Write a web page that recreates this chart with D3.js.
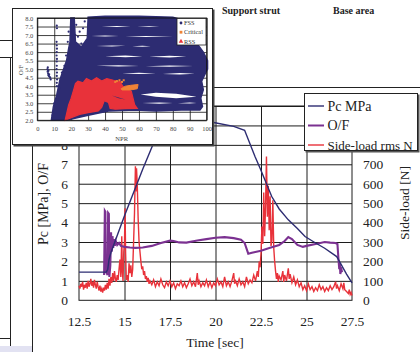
<!DOCTYPE html>
<html>
<head>
<meta charset="utf-8">
<script src="https://d3js.org/d3.v7.min.js"></script>
<style>
  body { margin: 0; background: #fff; }
  svg { display: block; }
  svg text { font-family: "Liberation Serif", "Times New Roman", serif; }
</style>
</head>
<body>
<svg id="chart" width="420" height="352"></svg>
<script>
// ---- main chart data (time in s) ----
const pc = [[12.5,1.45],[14.0,1.45],[14.08,1.6],[14.15,2.1],[14.25,2.45],[15.0,4.35],[16.0,6.75],[16.6,8.1],
  [17.1,9.2],[18.0,9.3],[19.0,9.25],[19.9,9.15],[21.0,8.95],[21.6,8.75],[22.17,7.4],[22.45,6.8],[23.09,5.34],
  [23.5,4.7],[24.0,4.14],[24.5,3.7],[24.92,3.28],[25.5,2.95],[26.0,2.68],[26.66,2.25],[26.9,1.85],[27.2,1.35],[27.5,0.9]];

const of = [[13.88,1.3],[13.92,4.6],[13.95,4.55],[13.97,1.5],[14.02,1.4],[14.07,1.3],[14.1,4.5],[14.14,4.45],
  [14.17,1.2],[14.22,1.8],[14.26,3.5],[14.3,2.5],[14.34,3.3],[14.38,2.7],[14.42,3.15],[14.47,2.8],[14.52,3.05],
  [14.6,2.85],[14.7,2.95],[14.8,2.8],[15.0,2.75],[15.3,2.72],[15.6,2.7],[16.0,2.72],[16.5,2.8],[17.0,2.95],
  [17.5,3.07],[17.7,3.05],[18.0,2.98],[18.4,2.97],[19.0,3.08],[19.5,3.15],[20.0,3.22],[20.5,3.25],[21.0,3.2],
  [21.4,3.12],[21.6,2.95],[21.8,2.4],[22.0,2.45],[22.5,2.55],[23.0,2.7],[23.5,2.85],[23.8,3.05],[24.0,3.25],
  [24.2,3.15],[24.5,2.85],[24.8,2.75],[25.0,2.8],[25.5,2.9],[26.0,3.0],[26.3,2.97],[26.6,2.95],[26.7,2.9],
  [26.75,2.2],[26.8,1.6],[26.83,1.9],[26.86,1.35],[26.9,1.7],[26.94,1.5],[26.97,1.45]];

const sideLoad = [[12.5,75],[12.55,60],[12.6,85],[12.65,70],[12.7,95],[12.75,55],[12.8,80],[12.85,65],[12.9,90],
  [12.95,60],[13.0,100],[13.05,70],[13.1,85],[13.15,110],[13.2,75],[13.25,95],[13.3,65],[13.35,105],[13.4,80],
  [13.45,60],[13.5,95],[13.55,70],[13.6,50],[13.65,75],[13.7,45],[13.75,60],[13.8,40],[13.85,65],[13.9,50],
  [13.95,80],[14.0,55],[14.05,90],[14.1,60],[14.15,110],[14.2,75],[14.25,120],[14.3,90],[14.35,140],[14.4,100],
  [14.45,150],[14.5,110],[14.55,95],[14.6,130],[14.65,105],[14.7,160],[14.75,210],[14.8,120],[14.85,330],
  [14.88,150],[14.92,100],[14.96,250],[15.0,300],[15.03,474],[15.06,250],[15.1,105],[15.15,130],[15.2,95],
  [15.25,190],[15.3,140],[15.35,180],[15.4,120],[15.45,160],[15.5,300],[15.55,450],[15.6,690],[15.63,560],
  [15.66,680],[15.7,600],[15.75,420],[15.8,300],[15.85,250],[15.9,200],[15.95,160],[16.0,175],[16.05,130],
  [16.1,150],[16.15,110],[16.2,125],[16.25,95],[16.3,115],[16.35,85],[16.4,100],[16.5,80],[16.6,105],[16.7,70],
  [16.8,95],[16.9,75],[17.0,110],[17.1,80],[17.2,65],[17.3,95],[17.4,75],[17.5,100],[17.6,70],[17.7,90],
  [17.8,60],[17.9,85],[18.0,75],[18.1,100],[18.2,70],[18.3,90],[18.4,65],[18.5,85],[18.6,110],[18.7,75],
  [18.8,95],[18.9,70],[19.0,140],[19.05,80],[19.1,100],[19.2,70],[19.3,90],[19.4,75],[19.5,105],[19.6,70],
  [19.7,95],[19.8,65],[19.9,90],[20.0,75],[20.1,110],[20.2,80],[20.3,95],[20.4,70],[20.5,120],[20.6,75],
  [20.7,95],[20.8,70],[20.9,100],[21.0,140],[21.05,85],[21.1,100],[21.2,75],[21.3,110],[21.4,80],[21.5,95],
  [21.6,70],[21.7,120],[21.8,85],[21.9,105],[22.0,90],[22.1,130],[22.2,100],[22.3,150],[22.35,120],[22.4,200],
  [22.45,170],[22.5,240],[22.55,380],[22.6,290],[22.65,555],[22.7,330],[22.75,480],[22.8,740],[22.85,430],
  [22.9,590],[22.95,360],[23.0,535],[23.05,280],[23.1,310],[23.15,515],[23.2,270],[23.25,200],[23.3,150],
  [23.35,110],[23.4,140],[23.45,95],[23.5,125],[23.6,105],[23.7,150],[23.75,95],[23.8,130],[23.9,100],
  [24.0,165],[24.05,110],[24.1,135],[24.2,90],[24.3,120],[24.4,80],[24.5,105],[24.6,70],[24.7,90],[24.8,55],
  [24.9,75],[25.0,50],[25.1,85],[25.2,55],[25.3,70],[25.4,45],[25.5,65],[25.6,50],[25.7,80],[25.8,55],
  [25.9,70],[26.0,45],[26.1,65],[26.2,50],[26.3,75],[26.4,55],[26.5,70],[26.6,95],[26.65,60],[26.7,75],
  [26.8,50],[26.9,85],[27.0,60],[27.05,90],[27.1,55],[27.2,45],[27.3,35],[27.35,55],[27.4,30],[27.45,40],[27.5,25]];

const timeTicks = [12.5, 15, 17.5, 20, 22.5, 25, 27.5];
const leftTicks = [0, 1, 2, 3, 4, 5, 6, 7, 8];
const rightTicks = [0, 100, 200, 300, 400, 500, 600, 700];
const legendNames = ['Pc MPa', 'O/F', 'Side-load rms N'];

// ---- inset scatter data (NPR, O/F) ----
const fssCloud = [[8.3,2.0],[17,2.0],[30,2.3],[42,2.55],[58,2.6],[70,2.55],[85,2.6],[96,2.6],[97.5,2.8],
  [96.5,3.3],[98,3.8],[97,4.3],[99,4.7],[100.5,5.0],[100.5,5.5],[98,6.0],[95,6.4],[91,7.0],[88,7.5],[85,7.9],
  [80,8.05],[60,8.1],[40,8.1],[30,8.05],[29.5,6.8],[26,6.3],[22.5,6.6],[21.8,8.0],[19.8,8.0],[19.3,6.6],
  [18.5,6.2],[17.3,5.5],[15.5,5.0],[13.4,4.4],[11.5,3.5],[9.5,2.8]];
// thin broken white streaks inside the FSS cloud
const fssGaps = [
  [[32,6.95],[40,6.92],[48,6.95],[40,6.98]],
  [[52,6.9],[64,6.88],[80,6.92],[64,6.95]],
  [[35,6.36],[44,6.33],[52,6.37],[44,6.39]],
  [[56,6.34],[62,6.32],[67,6.35],[62,6.37]],
  [[40,5.76],[52,5.7],[62,5.74],[52,5.8]],
  [[66,5.72],[78,5.68],[88,5.74],[78,5.79]],
  [[35,5.2],[48,5.16],[60,5.19],[48,5.23]],
  [[64,5.17],[78,5.14],[92,5.19],[78,5.22]],
  [[50,4.75],[60,4.71],[70,4.74],[60,4.79]],
  [[74,4.72],[84,4.69],[93,4.73],[84,4.78]],
  [[61,3.52],[70,3.38],[82,3.3],[94,3.38],[82,3.55],[70,3.62]],
  [[62,3.01],[72,2.97],[80,3.01],[72,3.05]],
  [[83,3.0],[90,2.98],[94,3.01],[90,3.04]],
  [[38,7.5],[47,7.47],[55,7.5],[47,7.53]],
  [[59,7.49],[66,7.47],[72,7.5],[66,7.52]]
];
const rssStreak = [[44,3.45],[48,3.34],[52,3.22],[48,3.3]];
const fssDots = [[11.5,7.55],[11.6,7.4],[11.4,6.6],[11.5,6.4],[11.6,6.2],[11.5,6.0],[11.4,5.8],[11.6,5.6],
  [11.5,5.45],[11.5,5.2],[11.4,5.0],[11.6,4.8],[11.5,4.6],[11.7,4.4],[11.5,4.2],[11.6,4.0],
  [6.2,5.1],[6.0,5.0],[6.3,4.95],[6.1,4.85],[6.4,4.75],[6.5,4.65],[6.8,4.6],[7.2,4.55],[7.6,4.5],[7.9,4.4],
  [7.0,4.7],[6.6,4.9],[23,7.6],[25,7.2],[24,6.9],[27,7.4],[26,6.5],[28,7.8],[22.5,7.0],
  [9,2.3],[10,3.0],[12,3.2],[13,3.9],[14.5,4.8],[16,5.2],[17,5.8],[18,6.6],[18.5,7.2]];
const rssArea = [[16.4,2.0],[18.5,2.9],[20,3.3],[21.5,3.8],[22.5,4.15],[24,4.3],[27,4.2],[29,4.45],[32,4.3],
  [35,4.5],[38,4.3],[41,4.45],[45,4.35],[48.8,4.28],[50.5,4.0],[53,3.85],[55.5,3.7],[56.5,3.3],[57.5,2.9],
  [59,2.7],[52,2.68],[46,2.65],[43,2.7],[42,3.05],[39.5,3.15],[38,2.75],[36,2.55],[30,2.45],[25,2.35],[20,2.15]];
const criticalArea = [[49.5,3.85],[52,4.0],[55,4.05],[59.5,4.1],[59,3.85],[55,3.78],[50,3.78]];
const criticalDots = [[47,4.3],[48.5,4.35],[50,4.25],[51,4.35],[46,4.25]];

const nprTicks = d3.range(0, 101, 10);
const ofTicks = d3.range(2, 8.01, 0.5);
const insetNames = ['FSS', 'Critical', 'RSS'];

const navy = '#2d2c72', purple = '#7b3191', red = '#e8323a', orange = '#ef8236';
const serif = '"Liberation Serif", "Times New Roman", serif';

const svg = d3.select('#chart');

// page fragments around the figure
const page = svg.append('g').attr('stroke', '#222').attr('stroke-width', 1);
page.append('line').attr('x1', 0).attr('x2', 12).attr('y1', 40.5).attr('y2', 40.5);
page.append('line').attr('x1', 0).attr('x2', 12).attr('y1', 57.5).attr('y2', 57.5);
page.append('line').attr('x1', 10.5).attr('x2', 10.5).attr('y1', 57).attr('y2', 352);
page.append('line').attr('x1', 32.5).attr('x2', 32.5).attr('y1', 145).attr('y2', 352);
page.append('line').attr('x1', 0).attr('x2', 10).attr('y1', 338.5).attr('y2', 338.5);
page.append('line').attr('x1', 213).attr('x2', 420).attr('y1', 87.5).attr('y2', 87.5);
svg.append('rect').attr('x', 0).attr('y', 346).attr('width', 32).attr('height', 6).attr('fill', '#e2e2f2');

svg.append('text').attr('x', 222).attr('y', 14).attr('font-size', 10).attr('font-weight', 'bold')
  .attr('fill', '#222').text('Support strut');
svg.append('text').attr('x', 333).attr('y', 14).attr('font-size', 10).attr('font-weight', 'bold')
  .attr('fill', '#222').text('Base area');

// ---- main chart ----
const x = d3.scaleLinear().domain([12.5, 27.5]).range([79, 352]);
const y = d3.scaleLinear().domain([0, 10]).range([300.3, 106]);
const y2 = d3.scaleLinear().domain([0, 1000]).range([300.3, 106]);

const g = svg.append('g');

function styleTicks(a, size, fill) {
  a.attr('font-family', serif);
  a.select('.domain').remove();
  a.selectAll('text').attr('font-size', size).attr('font-family', serif).attr('fill', fill);
}

// grid
g.append('g').attr('transform', 'translate(79,0)')
  .call(d3.axisLeft(y).tickValues(d3.range(1, 11)).tickSize(-(352 - 79)).tickFormat(''))
  .call(a => a.select('.domain').remove())
  .call(a => a.selectAll('line').attr('stroke', '#1c1c1c'));
g.append('g').attr('transform', 'translate(0,300.3)')
  .call(d3.axisBottom(x).tickValues([15, 17.5, 20, 22.5, 25]).tickSize(-(300.3 - 106)).tickFormat(''))
  .call(a => a.select('.domain').remove())
  .call(a => a.selectAll('line').attr('stroke', '#1c1c1c'));
g.append('rect').attr('x', 79).attr('y', 106).attr('width', 352 - 79).attr('height', 300.3 - 106)
  .attr('fill', 'none').attr('stroke', '#1c1c1c');

// axes labels
g.append('g').attr('transform', 'translate(79,0)')
  .call(d3.axisLeft(y).tickValues(leftTicks).tickSize(0).tickPadding(11).tickFormat(d3.format('d')))
  .call(a => styleTicks(a, 13.5, '#222'));
g.append('g').attr('transform', 'translate(352,0)')
  .call(d3.axisRight(y2).tickValues(rightTicks).tickSize(0).tickPadding(11).tickFormat(d3.format('d')))
  .call(a => styleTicks(a, 13.5, '#222'));
g.append('g').attr('transform', 'translate(0,300.3)')
  .call(d3.axisBottom(x).tickValues(timeTicks).tickSize(0).tickPadding(16).tickFormat(d => d))
  .call(a => styleTicks(a, 13.5, '#222'));

g.append('text').attr('transform', 'translate(48,204) rotate(-90)').attr('text-anchor', 'middle')
  .attr('font-size', 14).attr('fill', '#222').text('Pc [MPa], O/F');
g.append('text').attr('transform', 'translate(409,203) rotate(-90)').attr('text-anchor', 'middle')
  .attr('font-size', 13.5).attr('fill', '#222').text('Side-load [N]');
g.append('text').attr('x', 215).attr('y', 347).attr('text-anchor', 'middle')
  .attr('font-size', 13.5).attr('fill', '#222').text('Time [sec]');

// series
const line = d3.line().x(d => x(d[0])).y(d => y(d[1]));
const line2 = d3.line().x(d => x(d[0])).y(d => y2(d[1]));
g.append('path').attr('d', line2(sideLoad)).attr('fill', 'none').attr('stroke', red).attr('stroke-width', 1.4);
g.append('path').attr('d', line(of)).attr('fill', 'none').attr('stroke', purple).attr('stroke-width', 2.1);
g.append('path').attr('d', line(pc)).attr('fill', 'none').attr('stroke', navy).attr('stroke-width', 1.4);

// legend
const lg = svg.append('g');
lg.append('rect').attr('x', 305.5).attr('y', 94.5).attr('width', 114).attr('height', 58).attr('fill', '#555');
lg.append('rect').attr('x', 304.5).attr('y', 93.5).attr('width', 113).attr('height', 57)
  .attr('fill', '#fff').attr('stroke', '#222');
const lgColors = [navy, purple, red];
legendNames.forEach((name, i) => {
  const yy = 106 + i * 19.5;
  lg.append('line').attr('x1', 308).attr('x2', 324).attr('y1', yy).attr('y2', yy)
    .attr('stroke', lgColors[i]).attr('stroke-width', i === 1 ? 2 : 1.4);
  lg.append('text').attr('x', 327.5).attr('y', yy + 4.8).attr('font-size', i === 2 ? 13 : 14)
    .attr('fill', '#222').text(name);
});

// ---- inset scatter ----
const ix = d3.scaleLinear().domain([0, 100]).range([37.3, 206.7]);
const iy = d3.scaleLinear().domain([2, 8]).range([120.3, 18]);
const inset = svg.append('g');
inset.append('rect').attr('x', 13.5).attr('y', 9.5).attr('width', 201).attr('height', 137).attr('fill', '#444');
inset.append('rect').attr('x', 12.5).attr('y', 8.5).attr('width', 200).attr('height', 136)
  .attr('fill', '#fff').attr('stroke', '#222');

inset.append('g').attr('transform', 'translate(37.3,0)')
  .call(d3.axisLeft(iy).tickValues(ofTicks).tickSize(-(206.7 - 37.3)).tickFormat(''))
  .call(a => a.select('.domain').remove())
  .call(a => a.selectAll('line').attr('stroke', '#111').attr('stroke-width', 0.8));
inset.append('g').attr('transform', 'translate(0,120.3)')
  .call(d3.axisBottom(ix).tickValues(nprTicks).tickSize(-(120.3 - 18)).tickFormat(''))
  .call(a => a.select('.domain').remove())
  .call(a => a.selectAll('line').attr('stroke', '#111').attr('stroke-width', 0.8));

const area = d3.line().x(d => ix(d[0])).y(d => iy(d[1])).curve(d3.curveLinearClosed);
inset.append('path').attr('d', area(fssCloud)).attr('fill', navy).attr('stroke', navy).attr('stroke-width', 1.5);
inset.selectAll('.gap').data(fssGaps).join('path').attr('class', 'gap')
  .attr('d', d => area(d)).attr('fill', '#fff');
inset.selectAll('.fdot').data(fssDots).join('circle').attr('class', 'fdot')
  .attr('cx', d => ix(d[0])).attr('cy', d => iy(d[1])).attr('r', 1.1).attr('fill', navy);
inset.append('path').attr('d', area(rssArea)).attr('fill', red).attr('stroke', red).attr('stroke-width', 1.2);
inset.append('path').attr('d', area(rssStreak)).attr('fill', navy);
inset.append('path').attr('d', area(criticalArea)).attr('fill', orange).attr('stroke', orange).attr('stroke-width', 1);
inset.selectAll('.cdot').data(criticalDots).join('rect').attr('class', 'cdot')
  .attr('x', d => ix(d[0]) - 1).attr('y', d => iy(d[1]) - 1).attr('width', 2).attr('height', 2).attr('fill', orange);

inset.append('rect').attr('x', 37.3).attr('y', 18).attr('width', 206.7 - 37.3).attr('height', 120.3 - 18)
  .attr('fill', 'none').attr('stroke', '#111').attr('stroke-width', 0.9);

// inset axis labels
inset.append('g').attr('transform', 'translate(37.3,0)')
  .call(d3.axisLeft(iy).tickValues(ofTicks).tickSize(0).tickPadding(4).tickFormat(d3.format('.1f')))
  .call(a => styleTicks(a, 6.5, '#444'));
inset.append('g').attr('transform', 'translate(0,120.3)')
  .call(d3.axisBottom(ix).tickValues(nprTicks).tickSize(0).tickPadding(6).tickFormat(d3.format('d')))
  .call(a => styleTicks(a, 6.5, '#444'));
inset.append('text').attr('x', 121.7).attr('y', 140.5).attr('text-anchor', 'middle')
  .attr('font-size', 6.5).attr('fill', '#444').text('NPR');
inset.append('text').attr('transform', 'translate(22.5,70) rotate(-90)').attr('text-anchor', 'middle')
  .attr('font-size', 6.5).attr('fill', '#444').text('O/F');

// inset legend
const il = inset.append('g');
il.append('rect').attr('x', 177).attr('y', 18.5).attr('width', 29).attr('height', 26.5)
  .attr('fill', '#fff').attr('stroke', '#222').attr('stroke-width', 0.8);
const ilColors = [navy, orange, red];
insetNames.forEach((name, i) => {
  const yy = 23 + i * 9.2;
  if (i === 0) il.append('circle').attr('cx', 181).attr('cy', yy).attr('r', 1.4).attr('fill', ilColors[i]);
  else if (i === 1) il.append('rect').attr('x', 179.6).attr('y', yy - 1.4).attr('width', 2.8).attr('height', 2.8).attr('fill', ilColors[i]);
  else il.append('path').attr('d', d3.symbol(d3.symbolTriangle, 9)()).attr('transform', `translate(181,${yy})`).attr('fill', ilColors[i]);
  il.append('text').attr('x', 184).attr('y', yy + 2.2).attr('font-size', 6.3).attr('fill', '#333').text(name);
});
</script>
</body>
</html>
